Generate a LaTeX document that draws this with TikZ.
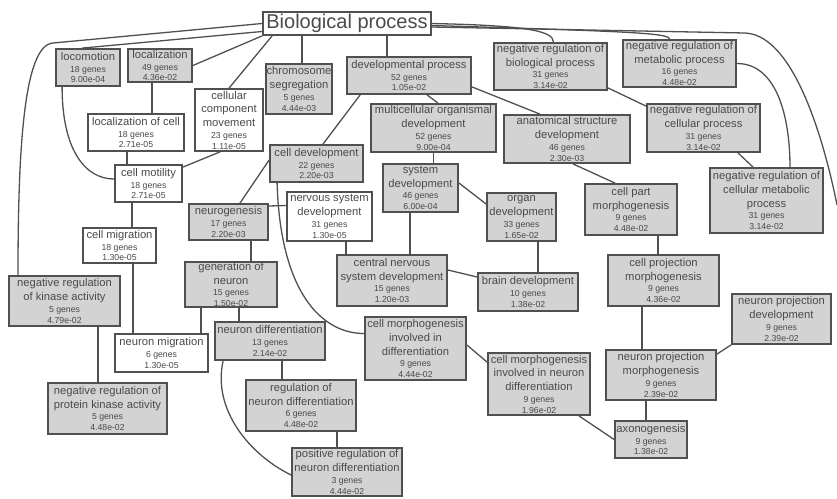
\documentclass[tikz,border=0pt]{standalone}
\usepackage{fontspec}
\setmainfont{Liberation Sans}
\definecolor{gofill}{HTML}{D3D3D3}
\definecolor{goline}{HTML}{505050}
\definecolor{gotext}{HTML}{4A4A4A}
\newcommand{\gomain}{\fontsize{11.2}{13.8}\selectfont}
\newcommand{\gosmall}{\fontsize{8.7}{10}\selectfont}
\newcommand{\gostat}[2]{\\[-2.1pt]{\gosmall #1 genes}\\[-3.1pt]{\gosmall #2}}
\tikzset{
  gobox/.style={draw=goline, line width=1.8pt, fill=gofill, text=gotext, align=center, inner sep=0.5pt, font=\gomain},
  gowhite/.style={gobox, fill=white},
  boxsize/.style 2 args={minimum width=#1, minimum height=#2},
  goedge/.style={draw=goline, line width=1.3pt},
}
\begin{document}
\begin{tikzpicture}[x=1pt, y=-1pt]
    \useasboundingbox (0,0) rectangle (837,498);

    % Root term
    \node[gowhite, boxsize={168}{23}, font=\fontsize{20}{24}\selectfont] (title) at (347,23.5) {Biological process};

    % Left branch
    \node[gobox, boxsize={64}{37}] (locomotion) at (88,67.5) {locomotion\gostat{18}{9.00e-04}};
    \node[gobox, boxsize={64}{33}] (localization) at (160,65.5) {localization\gostat{49}{4.36e-02}};
    \node[gowhite, boxsize={96}{37}] (loccell) at (136,132.5) {localization of cell\gostat{18}{2.71e-05}};
    \node[gowhite, boxsize={68}{62}] (cellcomp) at (229,120) {cellular\\component\\movement\gostat{23}{1.11e-05}};
    \node[gowhite, boxsize={67}{37}] (cellmot) at (148.5,183.5) {cell motility\gostat{18}{2.71e-05}};
    \node[gowhite, boxsize={73}{35}] (cellmig) at (119.5,245.5) {cell migration\gostat{18}{1.30e-05}};
    \node[gowhite, boxsize={93}{38}] (neumig) at (161.5,353) {neuron migration\gostat{6}{1.30e-05}};
    \node[gobox, boxsize={111}{50}] (negkin) at (64.5,301) {negative regulation\\of kinase activity\gostat{5}{4.79e-02}};
    \node[gobox, boxsize={119}{51}] (negprot) at (107.5,408.5) {negative regulation of\\protein kinase activity\gostat{5}{4.48e-02}};

    % Development branch
    \node[gobox, boxsize={60}{50}] (chrom) at (299,89) {chromosome\\segregation\gostat{5}{4.44e-03}};
    \node[gobox, boxsize={124}{37}] (dev) at (409,75.5) {developmental process\gostat{52}{1.05e-02}};
    \node[gobox, boxsize={125}{48}] (multi) at (433.5,128) {multicellular organismal\\development\gostat{52}{9.00e-04}};
    \node[gobox, boxsize={93}{37}] (celldev) at (316.5,163.5) {cell development\gostat{22}{2.20e-03}};
    \node[gobox, boxsize={79}{36}] (neurog) at (228.5,222) {neurogenesis\gostat{17}{2.20e-03}};
    \node[gowhite, boxsize={85}{49}] (nsd) at (329.5,216.5) {nervous system\\development\gostat{31}{1.30e-05}};
    \node[gobox, boxsize={75}{48}] (sysdev) at (420.5,188) {system\\development\gostat{46}{6.00e-04}};
    \node[gobox, boxsize={69}{48}] (organ) at (521.5,217) {organ\\development\gostat{33}{1.65e-02}};
    \node[gobox, boxsize={110}{51}] (cnsd) at (392,280.5) {central nervous\\system development\gostat{15}{1.20e-03}};
    \node[gobox, boxsize={100}{38}] (brain) at (528,292) {brain development\gostat{10}{1.38e-02}};
    \node[gobox, boxsize={92}{45}] (genneu) at (231,284.5) {generation of\\neuron\gostat{15}{1.50e-02}};
    \node[gobox, boxsize={110}{38}] (neudiff) at (270,341) {neuron differentiation\gostat{13}{2.14e-02}};
    \node[gobox, boxsize={110}{51}] (regnd) at (301,405.5) {regulation of\\neuron differentiation\gostat{6}{4.48e-02}};
    \node[gobox, boxsize={110}{48}] (posnd) at (347,472) {positive regulation of\\neuron differentiation\gostat{3}{4.44e-02}};
    \node[gobox, boxsize={101}{63}] (cmd) at (415.5,348.5) {cell morphogenesis\\involved in\\differentiation\gostat{9}{4.44e-02}};
    \node[gobox, boxsize={102}{62}] (cmnd) at (539,384) {cell morphogenesis\\involved in neuron\\differentiation\gostat{9}{1.96e-02}};

    % Right branch
    \node[gobox, boxsize={126}{48}] (anat) at (567,139) {anatomical structure\\development\gostat{46}{2.30e-03}};
    \node[gobox, boxsize={113}{47}] (negbio) at (550.5,66.5) {negative regulation of\\biological process\gostat{31}{3.14e-02}};
    \node[gobox, boxsize={113}{47}] (negmet) at (679.5,63.5) {negative regulation of\\metabolic process\gostat{16}{4.48e-02}};
    \node[gobox, boxsize={113}{48}] (negcell) at (703.5,128) {negative regulation of\\cellular process\gostat{31}{3.14e-02}};
    \node[gobox, boxsize={113}{65}] (negcellmet) at (766.5,200.5) {negative regulation of\\cellular metabolic\\process\gostat{31}{3.14e-02}};
    \node[gobox, boxsize={92}{51}] (cellpart) at (631,209.5) {cell part\\morphogenesis\gostat{9}{4.48e-02}};
    \node[gobox, boxsize={111}{51}] (cellproj) at (663.5,280.5) {cell projection\\morphogenesis\gostat{9}{4.36e-02}};
    \node[gobox, boxsize={99}{50}] (npdev) at (781.5,319) {neuron projection\\development\gostat{9}{2.39e-02}};
    \node[gobox, boxsize={110}{50}] (npmorph) at (661,375) {neuron projection\\morphogenesis\gostat{9}{2.39e-02}};
    \node[gobox, boxsize={72}{37}] (axon) at (651,439.5) {axonogenesis\gostat{9}{1.38e-02}};

    \coordinate (lbend) at (53,43);
    \coordinate (rbend) at (745,33);
    \coordinate (offright) at (837,205);

    % Vertical connectors
    \foreach \a/\b/\s in {title/chrom/-45, title/dev/40, localization/loccell/-8,
        loccell/cellmot/-9, cellmot/cellmig/-16.5, cellmig/neumig/13.5,
        negkin/negprot/33.5, multi/sysdev/0, cellpart/cellproj/27,
        cellproj/npmorph/-21.5, npmorph/axon/-15, neurog/genneu/22.5,
        nsd/cnsd/16.5, sysdev/cnsd/-10.5, organ/brain/16.5, genneu/neumig/-30,
        genneu/neudiff/8, neudiff/regnd/12, regnd/posnd/36} {
        \draw[goedge] ([xshift=\s]\a.south) coordinate (vtop) -- (vtop |- \b.north);
    }

    % Slanted and curved connectors
    \draw[goedge] ([yshift=-8]title.west) -- ([xshift=-6]locomotion.north);
    \draw[goedge] (title.west) -- (lbend) .. controls +(-30,2) and +(0,-120) .. ([xshift=-46.5]negkin.north);
    \draw[goedge] (title.south west) -- (localization.east);
    \draw[goedge] ([xshift=10]title.south west) -- (cellcomp.north);
    \draw[goedge] (title.east) .. controls +(90,2) and +(0,-12) .. ([xshift=3]negbio.north);
    \draw[goedge] ([yshift=-2]title.east) .. controls +(200,6) and +(0,-6) .. ([xshift=-10]negmet.north);
    \draw[goedge] ([yshift=-3.5]title.east) -- (rbend) .. controls +(50,2) and +(-12,-60) .. (offright);
    \draw[goedge] (negmet.east) .. controls +(40,0) and +(0,-50) .. ([xshift=23.5]negcellmet.north);
    \draw[goedge] ([yshift=3]negbio.south east) -- ([yshift=-3]negcell.north west);
    \draw[goedge] ([xshift=34.5]negcell.south) -- ([xshift=-13.5]negcellmet.north);
    \draw[goedge] ([xshift=14]dev.south west) -- ([xshift=6.5]celldev.north);
    \draw[goedge] ([xshift=18]dev.south) -- ([xshift=4.5]multi.north);
    \draw[goedge] ([yshift=8]dev.south east) -- ([xshift=-27]anat.north);
    \draw[goedge] ([xshift=6]anat.south) -- ([xshift=-16]cellpart.north);
    \draw[goedge] (npdev.south west) -- ([yshift=-5]npmorph.north east);
    \draw[goedge] ([xshift=40]cmnd.south) -- (axon.west);
    \draw[goedge] ([yshift=3.5]cmd.east) -- ([yshift=-10]cmnd.north west);
    \draw[goedge] ([yshift=3.5]celldev.west) -- ([xshift=11.5]neurog.north);
    \draw[goedge] ([xshift=8]celldev.south west) .. controls +(3,107) and +(-44,0) .. ([yshift=15]cmd.west);
    \draw[goedge] ([yshift=16]neurog.east) -- ([yshift=11]nsd.west);
    \draw[goedge] ([yshift=5]sysdev.east) -- ([yshift=13]organ.west);
    \draw[goedge] ([yshift=10.5]cnsd.east) -- ([yshift=15]brain.west);
    \draw[goedge] ([xshift=9]neudiff.south west) .. controls +(-11,49) and +(-41,-20) .. ([yshift=-3]posnd.west);
    \draw[goedge] ([xshift=-9]cellcomp.south) -- ([yshift=-3]cellmot.north east);
    \draw[goedge] ([xshift=7]locomotion.south west) .. controls +(0,63) and +(-29,0) .. ([yshift=4.5]cellmot.west);
\end{tikzpicture}
\end{document}
